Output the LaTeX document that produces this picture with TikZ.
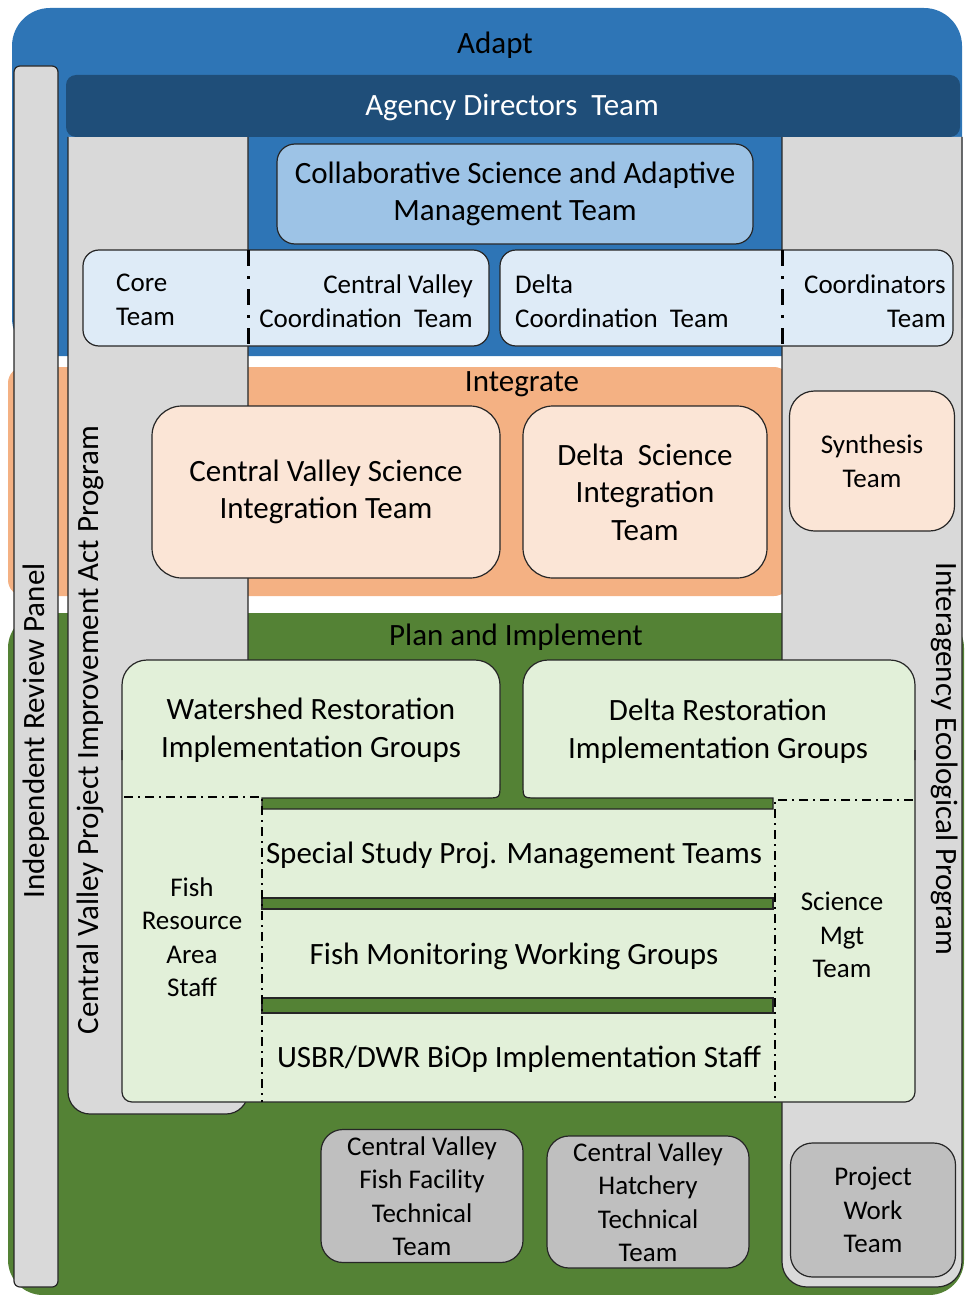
\documentclass[tikz,border=0pt]{standalone}
\usepackage{fontspec}
\setmainfont{Carlito}

\definecolor{adaptblue}{HTML}{2E75B6}
\definecolor{agencyblue}{HTML}{1F4E79}
\definecolor{csamblue}{HTML}{9DC3E6}
\definecolor{coordblue}{HTML}{DEEBF7}
\definecolor{integorange}{HTML}{F4B183}
\definecolor{peach}{HTML}{FBE5D6}
\definecolor{plangreen}{HTML}{548235}
\definecolor{palegreen}{HTML}{E2F0D9}
\definecolor{panelgrey}{HTML}{D9D9D9}
\definecolor{teamgrey}{HTML}{BFBFBF}
\definecolor{edge}{HTML}{262626}

\tikzset{
  bigtext/.style={font=\fontsize{31}{37.5}\selectfont, align=center, inner sep=0pt},
  smalltext/.style={font=\fontsize{27}{33.5}\selectfont, inner sep=0pt},
  outline/.style={draw=edge, line width=1.2pt},
  teambox/.style={outline, rounded corners=#1, inner sep=0pt},
  coorddivider/.style={line width=3pt, dash pattern=on 16pt off 10pt on 3pt off 10pt},
  columnline/.style={line width=1.6pt, dash pattern=on 9pt off 5pt on 2pt off 5pt},
}

\begin{document}
\begin{tikzpicture}[x=1pt, y=-1pt]
  \useasboundingbox (0,0) rectangle (964,1295);

  \fill [adaptblue, rounded corners=38] (12,8) rectangle (962,356);
  \fill [integorange, rounded corners=16] (8,367) rectangle (790,596);
  \fill [plangreen, rounded corners=35] (8,613) rectangle (964,1295);

  \draw [outline, fill=panelgrey, rounded corners=6] (14,66) rectangle (58,1287);
  \draw [outline, fill=panelgrey, rounded corners=22]
    (68,137)
    -- (68,1114)
    -- (248,1114)
    -- (248,137)
  ;
  \draw [outline, fill=panelgrey, rounded corners=25]
    (782,137)
    -- (782,1287)
    -- (962,1287)
    -- (962,137)
  ;
  \fill [agencyblue, rounded corners=10] (66,75) rectangle (960,137);

  \node [teambox=18, fill=csamblue, bigtext, minimum width=476, minimum height=100]
    (csam) at (515,194) {Collaborative Science and Adaptive\\Management Team};

  \draw [outline, fill=coordblue, rounded corners=16] (83,250) rectangle (489,346);
  \draw [outline, fill=coordblue, rounded corners=16] (500,250) rectangle (953,346);
  \draw [coorddivider] (248,250) -- (248,351);
  \draw [coorddivider] (782,250) -- (782,351);
  \node [smalltext, anchor=west, align=left] (core) at (116,300) {Core\\Team};
  \node [smalltext, anchor=east, align=right] (cv coord) at (473,301)
    {Central Valley\\Coordination\ \ Team};
  \node [smalltext, anchor=west, align=left] (delta coord) at (515,301)
    {Delta\\Coordination\ \ Team};
  \node [smalltext, anchor=east, align=right] (coordinators) at (946,301)
    {Coordinators\\Team};

  \node [teambox=30, fill=peach, bigtext, minimum width=348, minimum height=172]
    (cv science) at (326,492) {Central Valley Science\\Integration Team};
  \node [teambox=30, fill=peach, bigtext, minimum width=244, minimum height=172]
    (delta science) at (645,492) {Delta\ \ Science\\Integration\\Team};
  \node [teambox=25, fill=peach, smalltext, align=center, minimum width=165, minimum height=140]
    (synthesis) at (872,461) {Synthesis\\Team};

  \fill [palegreen, rounded corners=25] (122,660) rectangle (500,830);
  \fill [palegreen, rounded corners=25] (523,660) rectangle (915,830);
  \fill [palegreen, rounded corners=10] (122,790) rectangle (915,1102);
  \fill [plangreen]
    (262,809)
    -- (262,798)
    -- (486,798)
    .. controls (500,798) .. (500,784)
    -- (500,700)
    -- (523,700)
    -- (523,784)
    .. controls (523,798) .. (537,798)
    -- (773,798)
    -- (773,809)
    -- cycle
  ;
  \draw [outline, rounded corners=25]
    (122,760)
    -- (122,660)
    -- (500,660)
    -- (500,784)
  ;
  \draw [outline, rounded corners=25]
    (523,784)
    -- (523,660)
    -- (915,660)
    -- (915,760)
  ;
  \draw [outline, rounded corners=10]
    (122,750)
    -- (122,1102)
    -- (915,1102)
    -- (915,750)
  ;
  \draw [outline]
    (500,784)
    .. controls (500,798) .. (486,798)
    -- (262,798)
    -- (262,809)
    -- (773,809)
    -- (773,798)
    -- (537,798)
    .. controls (523,798) .. (523,784)
  ;
  \draw [outline, fill=plangreen] (262,898) rectangle (773,909);
  \draw [outline, fill=plangreen] (262,998) rectangle (773,1013);

  \draw [columnline]
    (124,797)
    -- (262,797)
    -- (262,1102)
  ;
  \draw [columnline]
    (913,800)
    -- (775,800)
    -- (775,1102)
  ;

  \node [teambox=22, fill=teamgrey, smalltext, align=center, minimum width=202, minimum height=133]
    (fish facility) at (422,1196) {Central Valley\\Fish Facility\\Technical\\Team};
  \node [teambox=22, fill=teamgrey, smalltext, align=center, minimum width=202, minimum height=132]
    (hatchery) at (648,1202) {Central Valley\\Hatchery\\Technical\\Team};
  \node [teambox=22, fill=teamgrey, smalltext, align=center, minimum width=165, minimum height=134]
    (project work) at (873,1210) {Project\\Work\\Team};

  \node [bigtext] (adapt) at (495,45) {Adapt};
  \node [bigtext, text=white] (agency) at (512,108) {Agency Directors\ \ Team};
  \node [bigtext] (integrate) at (522,384) {Integrate};
  \node [bigtext] (plan) at (516,637) {Plan and Implement};
  \node [bigtext, rotate=90] (review panel) at (36,731) {Independent Review Panel};
  \node [bigtext, rotate=90] (cvpia) at (90,730)
    {Central Valley Project Improvement Act Program};
  \node [bigtext, rotate=-90] (iep) at (945,759) {Interagency Ecological Program};

  \node [bigtext] (watershed) at (311,730) {Watershed Restoration\\Implementation Groups};
  \node [bigtext] (delta restoration) at (718,731) {Delta Restoration\\Implementation Groups};
  \node [bigtext] (special study) at (514,855) {Special Study Proj. Management Teams};
  \node [bigtext] (fish monitoring) at (514,956) {Fish Monitoring Working Groups};
  \node [bigtext] (biop) at (519,1059) {USBR/DWR BiOp Implementation Staff};
  \node [smalltext, align=center] (fish resource) at (192,937) {Fish\\Resource\\Area\\Staff};
  \node [smalltext, align=center] (science mgt) at (842,935) {Science\\Mgt\\Team};
\end{tikzpicture}
\end{document}
